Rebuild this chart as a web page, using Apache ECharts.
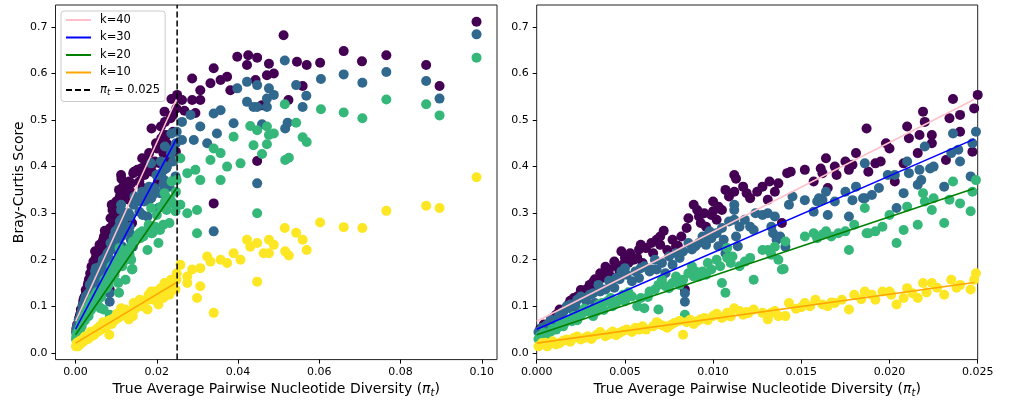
<!DOCTYPE html>
<html><head><meta charset="utf-8">
<script src="https://cdn.jsdelivr.net/npm/echarts@6/dist/echarts.min.js"></script>
<style>html,body{margin:0;padding:0;background:#fff}#c{width:1010px;height:403px}</style>
</head><body><div id="c"></div>
<script>
// ---- data ----
const k40 = [
[0.0002,0.052],[0.0004,0.061],[0.0006,0.058],[0.0008,0.071],[0.0009,0.075],[0.0011,0.082],[0.0013,0.093],[0.0015,0.09],
[0.0018,0.104],[0.0019,0.112],[0.0021,0.118],[0.0023,0.121],[0.0025,0.135],[0.0026,0.128],[0.0028,0.136],[0.003,0.146],
[0.0032,0.152],[0.0033,0.158],[0.0034,0.143],[0.0036,0.171],[0.0037,0.161],[0.0039,0.185],[0.004,0.164],[0.0041,0.179],
[0.0042,0.164],[0.0044,0.196],[0.0045,0.186],[0.0047,0.175],[0.0048,0.218],[0.0049,0.19],[0.005,0.205],[0.0052,0.193],
[0.0053,0.214],[0.0055,0.2],[0.0057,0.204],[0.0058,0.222],[0.0059,0.232],[0.006,0.193],[0.0062,0.225],
[0.0065,0.236],[0.0066,0.214],[0.0068,0.243],[0.007,0.25],[0.007,0.232],[0.0072,0.262],[0.0074,0.221],[0.0077,0.243],
[0.0079,0.229],[0.008,0.23],[0.0082,0.25],[0.0084,0.136],[0.0085,0.268],[0.0086,0.289],[0.0089,0.318],[0.0091,0.307],
[0.0092,0.293],[0.0093,0.279],[0.0095,0.3],[0.0096,0.271],[0.0099,0.296],[0.01,0.325],[0.01,0.304],[0.0102,0.286],
[0.0103,0.314],[0.0105,0.307],[0.0107,0.35],[0.0109,0.336],[0.0112,0.382],[0.0113,0.374],[0.0112,0.346],[0.0117,0.357],
[0.0119,0.343],[0.0121,0.332],[0.0125,0.346],
[0.0128,0.357],[0.0131,0.329],[0.0132,0.368],[0.0135,0.346],[0.0137,0.364],[0.0139,0.279],[0.0142,0.386],[0.0144,0.389],
[0.0152,0.393],[0.0157,0.368],[0.0161,0.396],[0.0162,0.386],[0.0164,0.418],[0.0165,0.354],[0.0169,0.4],[0.017,0.382],
[0.0175,0.411],[0.0177,0.393],[0.0179,0.404],[0.0181,0.429],[0.0187,0.482],[0.0188,0.389],[0.0192,0.407],[0.0195,0.411],
[0.0198,0.45],[0.02,0.439],[0.0203,0.368],[0.0208,0.407],[0.021,0.486],[0.0211,0.461],[0.0216,0.429],[0.0217,0.468],
[0.0219,0.518],[0.022,0.496],[0.0224,0.468],[0.0224,0.45],[0.0232,0.414],[0.0234,0.504],[0.0236,0.545],[0.024,0.511],
[0.024,0.475],[0.0247,0.432],[0.0248,0.525],[0.025,0.554],
[0.0262,0.543],[0.0268,0.52],[0.0287,0.589],[0.0287,0.543],[0.0295,0.515],[0.0307,0.543],[0.0307,0.564],[0.0332,0.579],
[0.034,0.611],[0.034,0.321],[0.0357,0.586],[0.0373,0.593],[0.0381,0.564],[0.0398,0.636],[0.0422,0.618],[0.0425,0.639],
[0.0443,0.586],[0.0447,0.634],[0.0447,0.412],[0.0459,0.532],[0.0471,0.596],[0.0476,0.621],[0.0488,0.6],[0.0512,0.682],
[0.0524,0.543],[0.0545,0.625],[0.0559,0.573],[0.0569,0.618],[0.0602,0.623],[0.066,0.648],[0.0705,0.626],[0.0765,0.639],
[0.0863,0.618],[0.0896,0.573],[0.0987,0.711]
];
const k30 = [
[0.0001,0.045],[0.0003,0.054],[0.0005,0.057],[0.0006,0.061],[0.0008,0.071],[0.001,0.066],[0.0012,0.075],[0.0013,0.082],
[0.0015,0.088],[0.0017,0.1],[0.0019,0.104],[0.002,0.093],[0.0022,0.1],[0.0023,0.114],[0.0025,0.121],[0.0027,0.118],
[0.0028,0.112],[0.003,0.125],[0.0032,0.128],[0.0033,0.107],[0.0035,0.146],[0.0036,0.132],[0.0039,0.136],[0.0041,0.155],
[0.0042,0.15],[0.0044,0.14],[0.0045,0.161],[0.0047,0.158],[0.0048,0.175],[0.005,0.182],[0.0051,0.168],[0.0054,0.154],
[0.0056,0.175],[0.0058,0.161],[0.0059,0.182],[0.0061,0.186],
[0.0064,0.175],[0.0065,0.179],[0.0067,0.2],[0.0068,0.179],[0.0071,0.193],[0.0073,0.171],[0.0075,0.207],[0.0077,0.189],
[0.0079,0.214],[0.0081,0.204],[0.0083,0.218],[0.0084,0.11],[0.0084,0.128],[0.0086,0.236],[0.0088,0.222],[0.009,0.229],
[0.0092,0.236],[0.0094,0.25],[0.0095,0.246],[0.0096,0.232],[0.0098,0.261],[0.0099,0.246],[0.0102,0.257],[0.0103,0.229],
[0.0105,0.268],[0.0106,0.243],[0.0107,0.214],[0.0109,0.282],[0.0112,0.307],[0.0112,0.318],[0.0112,0.286],[0.0113,0.25],
[0.0114,0.229],[0.0115,0.271],[0.0118,0.286],[0.0121,0.271],[0.0123,0.264],[0.0124,0.3],
[0.0128,0.296],[0.0131,0.3],[0.0133,0.271],[0.0134,0.257],[0.0135,0.293],[0.0136,0.243],[0.0138,0.25],[0.0141,0.228],
[0.0143,0.318],[0.0145,0.336],[0.0152,0.328],[0.0157,0.303],[0.0159,0.325],[0.016,0.332],[0.0162,0.328],[0.0164,0.346],
[0.0165,0.296],[0.0169,0.325],[0.0175,0.346],[0.0177,0.293],[0.0179,0.328],[0.0181,0.357],[0.0185,0.332],
[0.0186,0.407],[0.0186,0.332],[0.019,0.339],[0.0194,0.354],[0.0199,0.382],[0.0203,0.382],[0.0204,0.311],[0.0208,0.343],
[0.021,0.411],[0.0211,0.386],[0.0216,0.361],[0.0217,0.393],[0.0218,0.371],[0.022,0.443],[0.0223,0.396],[0.0225,0.4],
[0.0231,0.357],[0.0235,0.429],[0.0236,0.471],[0.0239,0.436],[0.024,0.411],[0.0246,0.379],[0.0247,0.45],[0.0249,0.475],
[0.0262,0.496],[0.0262,0.457],[0.0283,0.511],[0.0291,0.457],[0.0307,0.486],[0.0324,0.45],[0.034,0.514],[0.034,0.261],
[0.0348,0.471],[0.0357,0.521],[0.0389,0.493],[0.0398,0.568],[0.0422,0.582],[0.0422,0.539],[0.0438,0.528],[0.0447,0.575],
[0.0447,0.528],[0.0447,0.364],[0.0459,0.491],[0.0471,0.546],[0.0471,0.528],[0.0476,0.568],[0.0488,0.554],[0.0515,0.628],
[0.0516,0.482],[0.0522,0.494],[0.0543,0.575],[0.0559,0.528],[0.0568,0.552],[0.0604,0.588],[0.066,0.598],[0.0706,0.58],
[0.0765,0.603],[0.0863,0.584],[0.0896,0.546],[0.0987,0.684]
];
const k20 = [
[0.0001,0.03],[0.0002,0.036],[0.0003,0.038],[0.0004,0.043],[0.0006,0.04],[0.0008,0.046],[0.0009,0.052],[0.0011,0.05],
[0.0013,0.062],[0.0015,0.057],[0.0016,0.065],[0.0018,0.071],[0.002,0.068],[0.0021,0.079],[0.0023,0.07],[0.0025,0.082],
[0.0026,0.086],[0.0027,0.095],[0.0029,0.089],[0.0031,0.093],[0.0032,0.079],[0.0034,0.089],[0.0035,0.104],[0.0037,0.107],
[0.0038,0.092],[0.004,0.111],[0.0042,0.118],[0.0043,0.1],[0.0045,0.107],[0.0047,0.114],[0.0049,0.125],[0.005,0.111],
[0.0052,0.13],[0.0054,0.121],[0.0057,0.1],[0.0059,0.118],[0.0061,0.096],[0.0063,0.12],
[0.0064,0.132],[0.0067,0.136],[0.0069,0.093],[0.0069,0.146],[0.0071,0.157],[0.0073,0.143],[0.0075,0.139],[0.0077,0.15],
[0.0079,0.164],[0.0081,0.146],[0.0083,0.157],[0.0084,0.082],[0.0086,0.171],[0.0088,0.186],[0.0089,0.164],[0.009,0.175],
[0.0092,0.164],[0.0094,0.175],[0.0096,0.168],[0.0097,0.193],[0.0099,0.179],[0.0102,0.2],[0.0104,0.186],[0.0105,0.15],
[0.0107,0.129],[0.0108,0.204],[0.0108,0.225],[0.011,0.193],[0.0111,0.207],[0.0115,0.186],[0.0118,0.196],[0.0121,0.204],
[0.0123,0.157],
[0.0128,0.221],[0.0131,0.221],[0.0133,0.211],[0.0135,0.228],[0.0137,0.2],[0.0139,0.179],[0.014,0.18],[0.0141,0.239],
[0.0152,0.25],[0.0157,0.257],[0.0159,0.246],[0.0162,0.254],[0.0164,0.261],[0.0167,0.25],[0.0171,0.257],[0.0175,0.261],
[0.0177,0.221],[0.018,0.275],[0.0187,0.257],
[0.0186,0.311],[0.0188,0.257],[0.0192,0.261],[0.0196,0.271],[0.02,0.296],[0.0204,0.236],[0.0208,0.264],[0.021,0.314],
[0.0216,0.275],[0.0219,0.343],[0.022,0.325],[0.0224,0.307],[0.0225,0.332],[0.0231,0.279],[0.0234,0.329],[0.0236,0.368],
[0.024,0.321],[0.0246,0.304],[0.0247,0.346],[0.0249,0.371],
[0.0258,0.418],[0.0258,0.318],[0.0275,0.386],[0.0275,0.3],[0.0295,0.393],[0.0299,0.257],[0.0299,0.307],[0.0307,0.371],
[0.0332,0.414],[0.034,0.439],[0.0357,0.429],[0.0357,0.371],[0.0373,0.4],[0.0389,0.464],[0.0406,0.407],[0.043,0.487],
[0.0438,0.446],[0.0447,0.478],[0.0447,0.3],[0.0459,0.427],[0.0471,0.486],[0.0471,0.448],[0.0476,0.468],[0.0488,0.471],
[0.0515,0.534],[0.0516,0.414],[0.0525,0.419],[0.0543,0.494],[0.0559,0.463],[0.0569,0.453],[0.0604,0.523],[0.066,0.516],
[0.0706,0.504],[0.0765,0.544],[0.0863,0.534],[0.0896,0.51],[0.0987,0.634]
];
const k10 = [
[0.0001,0.014],[0.0003,0.021],[0.0005,0.022],[0.0006,0.014],[0.0007,0.019],[0.0009,0.025],[0.0011,0.018],[0.0013,0.021],
[0.0015,0.026],[0.0017,0.029],[0.0019,0.024],[0.0021,0.032],[0.0023,0.035],[0.0025,0.029],[0.0027,0.032],[0.0029,0.036],
[0.0031,0.03],[0.0034,0.039],[0.0036,0.045],[0.0039,0.036],[0.0041,0.04],[0.0043,0.046],[0.0045,0.038],[0.0047,0.043],
[0.0049,0.047],[0.0051,0.05],[0.0054,0.045],[0.0056,0.054],[0.0058,0.05],[0.006,0.057],[0.0062,0.05],[0.0066,0.057],
[0.0068,0.066],[0.007,0.061],[0.0072,0.058],[0.0074,0.054],[0.0076,0.06],[0.0078,0.064],[0.0081,0.069],[0.0083,0.039],
[0.0085,0.066],[0.0087,0.071],[0.0089,0.062],[0.0091,0.068],[0.0093,0.072],[0.0095,0.075],[0.0097,0.07],[0.01,0.079],
[0.0102,0.084],[0.0105,0.075],[0.0107,0.08],[0.0108,0.086],[0.011,0.078],[0.0112,0.096],[0.0115,0.09],[0.0117,0.082],
[0.0119,0.088],[0.012,0.085],[0.0123,0.093],
[0.0128,0.086],[0.0131,0.072],[0.0133,0.086],[0.0135,0.09],[0.0137,0.079],[0.0141,0.079],[0.0143,0.107],[0.0147,0.095],
[0.015,0.098],[0.0152,0.107],[0.0155,0.1],[0.0158,0.114],[0.0162,0.104],[0.0165,0.1],[0.0167,0.108],[0.0169,0.107],
[0.0173,0.114],[0.0177,0.093],[0.018,0.125],[0.0184,0.115],
[0.0186,0.132],[0.019,0.125],[0.0192,0.114],[0.0196,0.132],[0.02,0.132],[0.0201,0.125],[0.0204,0.104],[0.0208,0.118],
[0.021,0.139],[0.0213,0.128],[0.0216,0.118],[0.0219,0.15],[0.0221,0.13],[0.0224,0.15],[0.0227,0.14],[0.0231,0.125],
[0.0235,0.157],[0.0238,0.14],[0.024,0.146],[0.0246,0.136],[0.0248,0.157],[0.0249,0.171],
[0.0258,0.189],[0.0275,0.164],[0.0275,0.15],[0.0287,0.179],[0.0299,0.118],[0.0307,0.182],[0.0307,0.143],[0.0324,0.207],
[0.0332,0.196],[0.034,0.086],[0.0357,0.2],[0.0373,0.193],[0.0389,0.214],[0.0406,0.2],[0.0422,0.243],[0.043,0.228],
[0.0447,0.236],[0.0447,0.153],[0.0463,0.214],[0.0476,0.243],[0.0476,0.214],[0.0488,0.232],[0.0515,0.268],[0.0516,0.218],
[0.0525,0.209],[0.0543,0.258],[0.0559,0.243],[0.0569,0.221],[0.0602,0.28],[0.066,0.27],[0.0706,0.268],[0.0765,0.305],
[0.0863,0.316],[0.0896,0.311],[0.0987,0.377]
];
const fitX  = [0, 0.0248];
const fit40 = [0.068, 0.544];
const fit30 = [0.051, 0.459];
const fit20 = [0.039, 0.353];
const fit10 = [0.021, 0.151];
const cutoff = 0.025;
const yTicks = [0, 0.1, 0.2, 0.3, 0.4, 0.5, 0.6, 0.7];
const xTicksLeft = [0, 0.02, 0.04, 0.06, 0.08, 0.1];
const xTicksRight = [0, 0.005, 0.01, 0.015, 0.02, 0.025];
const seriesNames = ['k=40', 'k=30', 'k=20', 'k=10'];

// ---- styles ----
const FONT = 'DejaVu Sans';
const Y_MIN = -0.0144, Y_MAX = 0.747;
const pointColors = ['#440154', '#31688e', '#35b779', '#fde725'];
const lineColors = ['#ffc0cb', '#0000ff', '#008000', '#ffa500'];
const pts = [k40, k30, k20, k10];
const fits = [fit40, fit30, fit20, fit10];

const chart = echarts.init(document.getElementById('c'), null, {renderer: 'canvas'});

function yAxis(idx, withName) {
  return {
    type: 'value', gridIndex: idx, min: Y_MIN, max: Y_MAX, position: 'left',
    name: withName ? 'Bray-Curtis Score' : '', nameLocation: 'middle', nameGap: 29,
    nameTextStyle: {fontFamily: FONT, fontSize: 14, color: '#000'},
    axisLine: {show: false, onZero: false}, splitLine: {show: false},
    axisTick: {show: true, inside: false, length: 4, lineStyle: {color: '#000', width: 1}, customValues: yTicks},
    axisLabel: {customValues: yTicks, margin: 8, fontFamily: FONT, fontSize: 11, color: '#000',
      formatter: v => v.toFixed(1)}
  };
}
const xNameRich = {
  pi: {fontFamily: FONT, fontSize: 14, fontStyle: 'italic', color: '#000'},
  sub: {fontFamily: FONT, fontSize: 10, fontStyle: 'italic', color: '#000', padding: [7, 0, 0, 0]}
};
function xAxis(idx, min, max, ticks, digits) {
  return {
    type: 'value', gridIndex: idx, min: min, max: max, position: 'bottom',
    name: 'True Average Pairwise Nucleotide Diversity ({pi|π}{sub|t})', nameLocation: 'middle', nameGap: 21,
    nameTextStyle: {fontFamily: FONT, fontSize: 14, color: '#000', rich: xNameRich},
    axisLine: {show: false, onZero: false}, splitLine: {show: false},
    axisTick: {show: true, inside: false, length: 4, lineStyle: {color: '#000', width: 1}, customValues: ticks},
    axisLabel: {customValues: ticks, margin: 7, fontFamily: FONT, fontSize: 11, color: '#000',
      formatter: v => v.toFixed(digits)}
  };
}

const series = [];
[0, 1].forEach(g => {
  pts.forEach((arr, i) => {
    series.push({
      type: 'scatter', name: 'pts' + g + '_' + i, xAxisIndex: g, yAxisIndex: g,
      data: g === 0 ? arr : arr.filter(p => p[0] <= 0.0256),
      symbolSize: 10, itemStyle: {color: pointColors[i], opacity: 1},
      clip: true, silent: true, z: 2
    });
  });
  fits.forEach((f, i) => {
    series.push({
      type: 'line', name: seriesNames[i], xAxisIndex: g, yAxisIndex: g,
      data: fitX.map((x, j) => [x, f[j]]), symbol: 'none', showSymbol: false,
      lineStyle: {color: lineColors[i], width: 1.6}, itemStyle: {color: 'rgba(0,0,0,0)', borderWidth: 0},
      silent: true, z: 4
    });
  });
});
series.push({
  type: 'line', name: 'cut', xAxisIndex: 0, yAxisIndex: 0,
  data: [[cutoff, Y_MIN], [cutoff, Y_MAX]], symbol: 'none', showSymbol: false,
  lineStyle: {color: '#000', width: 1.5, type: [6, 3]}, itemStyle: {color: 'rgba(0,0,0,0)', borderWidth: 0},
  silent: true, z: 5
});

chart.setOption({
  animation: false,
  backgroundColor: '#fff',
  grid: [
    {left: 55.5, top: 5, width: 441.5, height: 355, show: true, borderColor: '#222', borderWidth: 1, backgroundColor: 'transparent'},
    {left: 536.7, top: 5, width: 441, height: 355, show: true, borderColor: '#222', borderWidth: 1, backgroundColor: 'transparent'}
  ],
  xAxis: [xAxis(0, -0.00494, 0.10374, xTicksLeft, 2), xAxis(1, 0, 0.025, xTicksRight, 3)],
  yAxis: [yAxis(0, true), yAxis(1, false)],
  legend: {
    show: true, orient: 'vertical', left: 61, top: 11,
    data: ['k=40', 'k=30', 'k=20', 'k=10', 'cut'],
    itemWidth: 25, itemHeight: 10, itemGap: 5.5,
    padding: [3, 5, 4, 4],
    borderColor: '#cccccc', borderWidth: 1, borderRadius: 3,
    backgroundColor: 'rgba(255,255,255,0.8)',
    selectedMode: false,
    itemStyle: {opacity: 0},
    formatter: n => n === 'cut' ? '{i|π}{s|t}{n| = 0.025}' : n,
    textStyle: {fontFamily: FONT, fontSize: 11.5, color: '#000', lineHeight: 12, padding: [0, 0, 0, 4],
      rich: {
        i: {fontFamily: FONT, fontSize: 11.5, fontStyle: 'italic', color: '#000'},
        s: {fontFamily: FONT, fontSize: 8.5, fontStyle: 'italic', color: '#000', padding: [6, 0, 0, 0]},
        n: {fontFamily: FONT, fontSize: 11.5, color: '#000'}
      }}
  },
  series: series
});
</script></body></html>
